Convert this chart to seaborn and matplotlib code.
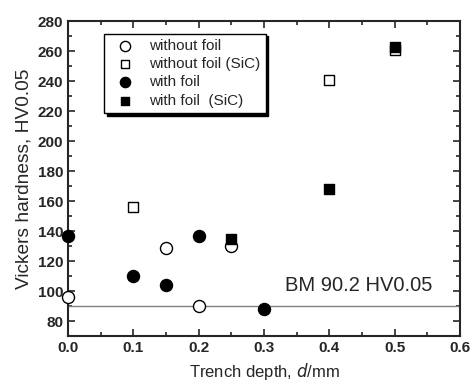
import numpy as np
import pandas as pd
import matplotlib
matplotlib.use("Agg")
import matplotlib.pyplot as plt
import seaborn as sns
from matplotlib.ticker import MultipleLocator

sns.set_style("ticks")
plt.rcParams['font.family'] = ['Liberation Sans', 'DejaVu Sans']

# ---------- data ----------
wo_x = [0.0, 0.15, 0.2, 0.25]
wo_y = [96, 129, 90, 130]
wo_sic_x = [0.1, 0.4, 0.5]
wo_sic_y = [156, 241, 261]
w_x = [0.0, 0.1, 0.15, 0.2, 0.3]
w_y = [137, 110, 104, 137, 88]
w_sic_x = [0.25, 0.4, 0.5]
w_sic_y = [135, 168, 263]
bm_value = 90.2

labels = ["without foil", "without foil (SiC)", "with foil", "with foil  (SiC)"]
df = pd.concat([
    pd.DataFrame({"d": wo_x, "hv": wo_y, "set": labels[0]}),
    pd.DataFrame({"d": wo_sic_x, "hv": wo_sic_y, "set": labels[1]}),
    pd.DataFrame({"d": w_x, "hv": w_y, "set": labels[2]}),
    pd.DataFrame({"d": w_sic_x, "hv": w_sic_y, "set": labels[3]}),
])

fig = plt.figure(figsize=(4.74, 3.85), dpi=100)
ax = fig.add_axes([0.1435, 0.127, 0.827, 0.818])

ax.axhline(bm_value, color="gray", lw=1, zorder=1)

styles = {
    labels[0]: ("o", "white", 75),
    labels[1]: ("s", "white", 50),
    labels[2]: ("o", "black", 75),
    labels[3]: ("s", "black", 50),
}
for lab in labels:
    m, fc, sz = styles[lab]
    sub = df[df["set"] == lab]
    sns.scatterplot(data=sub, x="d", y="hv", marker=m, color=fc,
                    edgecolor="black", linewidth=1, s=sz, label=lab,
                    ax=ax, zorder=3, clip_on=False)

ax.set_xlim(0, 0.6)
ax.set_ylim(70, 280)
ax.xaxis.set_minor_locator(MultipleLocator(0.05))
ax.yaxis.set_minor_locator(MultipleLocator(10))
ax.set_xticks(np.arange(0, 0.61, 0.1))
ax.set_xticklabels([f"{v:.1f}" for v in np.arange(0, 0.61, 0.1)])
ax.set_yticks(range(80, 281, 20))
ax.tick_params(which="both", direction="in", top=True, right=True,
               labelsize=11, width=1.2)
ax.tick_params(which="major", length=5)
ax.tick_params(which="minor", length=3)
for lbl in ax.get_xticklabels() + ax.get_yticklabels():
    lbl.set_fontweight("bold")
for s in ax.spines.values():
    s.set_linewidth(1.5)

ax.set_xlabel("Trench depth, $\\it{d}$/mm", fontsize=12)
ax.set_ylabel("Vickers hardness, HV0.05", fontsize=13.8)

ax.text(0.558, 100, "BM 90.2 HV0.05", fontsize=14.5, ha="right", va="baseline")

leg = ax.legend(loc="upper left", bbox_to_anchor=(0.072, 0.985), fontsize=11,
                frameon=True, fancybox=False, shadow={"color": "black", "alpha": 1},
                edgecolor="black", handletextpad=0.6, borderpad=0.35,
                labelspacing=0.28, markerscale=0.85)
leg.get_frame().set_linewidth(1)

fig.savefig("out.png", dpi=100)
